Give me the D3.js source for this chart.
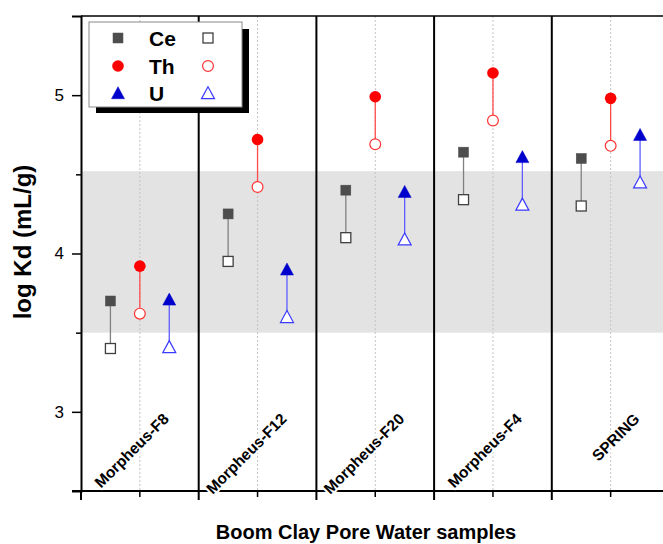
<!DOCTYPE html>
<html>
<head>
<meta charset="utf-8">
<script src="https://cdn.jsdelivr.net/npm/d3@7"></script>
<style>
  html, body { margin: 0; padding: 0; background: #fff; }
  svg { display: block; font-family: "Liberation Sans", Arial, sans-serif; }
</style>
</head>
<body>
<svg id="chart" width="663" height="544"></svg>
<script>
// ---- data ----
const categories = ["Morpheus-F8", "Morpheus-F12", "Morpheus-F20", "Morpheus-F4", "SPRING"];
const ceFilled = [3.70, 4.25, 4.40, 4.64, 4.60];
const ceOpen   = [3.40, 3.95, 4.10, 4.34, 4.30];
const thFilled = [3.92, 4.72, 4.99, 5.14, 4.98];
const thOpen   = [3.62, 4.42, 4.69, 4.84, 4.68];
const uFilled  = [3.71, 3.90, 4.39, 4.61, 4.75];
const uOpen    = [3.41, 3.60, 4.09, 4.31, 4.45];
const bandRange = [3.5, 4.52];
const yDomain = [2.5, 5.5];
const yMajorTicks = [3, 4, 5];
const yMinorTicks = [3.5, 4.5];
const elements = ["Ce", "Th", "U"];

(function () {
// ---- layout ----
const svg = d3.select("#chart");
const pL = 81, pR = 669.5, pT = 16, pB = 491;

const x = d3.scaleBand().domain(categories).range([pL, pR]).paddingInner(0).paddingOuter(0);
const y = d3.scaleLinear().domain(yDomain).range([pB, pT]);
const bw = x.bandwidth();
const cx = c => x(c) + bw / 2;
const offsets = { Ce: -bw / 4, Th: 0, U: bw / 4 };

// shaded band
svg.append("rect")
  .attr("x", pL).attr("width", pR - pL)
  .attr("y", y(bandRange[1])).attr("height", y(bandRange[0]) - y(bandRange[1]))
  .attr("fill", "#e3e3e3");

// dashed center lines
svg.append("g").selectAll("line").data(categories).join("line")
  .attr("x1", d => cx(d)).attr("x2", d => cx(d))
  .attr("y1", pT).attr("y2", pB)
  .attr("stroke", "#c4c4c4").attr("stroke-width", 1).attr("stroke-dasharray", "2,2");

// separator lines at category boundaries
svg.append("g").selectAll("line").data(categories.slice(1)).join("line")
  .attr("x1", d => x(d)).attr("x2", d => x(d))
  .attr("y1", pT).attr("y2", pB + 9)
  .attr("stroke", "#000").attr("stroke-width", 2);

// top frame line
svg.append("line").attr("x1", pL).attr("x2", 663).attr("y1", pT).attr("y2", pT)
  .attr("stroke", "#000").attr("stroke-width", 1.5);

// y axis
const yAxis = svg.append("g").attr("transform", `translate(${pL},0)`)
  .call(d3.axisLeft(y).tickValues(yMajorTicks).tickSize(9).tickPadding(8).tickFormat(d3.format("d")));
yAxis.select(".domain").attr("stroke-width", 2);
yAxis.selectAll(".tick line").attr("stroke-width", 1.5);
yAxis.selectAll(".tick text").attr("font-size", 17).attr("fill", "#000")
  .attr("font-family", "Liberation Sans, Arial, sans-serif");
const yMinor = svg.append("g").attr("transform", `translate(${pL},0)`)
  .call(d3.axisLeft(y).tickValues(yMinorTicks).tickSize(5).tickFormat(""));
yMinor.select(".domain").remove();
yMinor.selectAll(".tick line").attr("stroke-width", 1.5);

// x axis
const xAxis = svg.append("g").attr("transform", `translate(0,${pB})`)
  .call(d3.axisBottom(x).tickSize(6).tickFormat(""));
xAxis.select(".domain").attr("d", `M${pL - 9},0H${pR}`).attr("stroke-width", 2);
xAxis.selectAll(".tick line").attr("stroke-width", 1.5);
svg.append("line").attr("x1", pL).attr("x2", pL).attr("y1", pB).attr("y2", pB + 9)
  .attr("stroke", "#000").attr("stroke-width", 2);

// category labels inside plot
svg.append("g").selectAll("text").data(categories).join("text")
  .attr("transform", d => `translate(${cx(d) + 30},${420}) rotate(-45)`)
  .attr("text-anchor", "end")
  .attr("font-size", 15.5).attr("font-weight", "bold")
  .attr("fill", "#000")
  .attr("stroke", "#fff").attr("stroke-width", 4).attr("paint-order", "stroke")
  .attr("stroke-linejoin", "round")
  .text(d => d);

// series
const series = [
  { name: "Ce", filled: ceFilled, open: ceOpen, line: "#808080", fill: "#4d4d4d", stroke: "#404040", shape: "square" },
  { name: "Th", filled: thFilled, open: thOpen, line: "#ff4a4a", fill: "#ff0000", stroke: "#ff3030", shape: "circle" },
  { name: "U",  filled: uFilled,  open: uOpen,  line: "#5c5cff", fill: "#0000cc", stroke: "#3a3aff", shape: "triangle" }
];

function drawSymbol(g, shape, px, py, filled, s) {
  if (shape === "square") {
    g.append("rect").attr("x", px - 5).attr("y", py - 5).attr("width", 10).attr("height", 10)
      .attr("fill", filled ? s.fill : "#fff").attr("stroke", filled ? s.fill : s.stroke)
      .attr("stroke-width", filled ? 0.5 : 1.3);
  } else if (shape === "circle") {
    g.append("circle").attr("cx", px).attr("cy", py).attr("r", filled ? 5.8 : 5.4)
      .attr("fill", filled ? s.fill : "#fff").attr("stroke", filled ? "none" : s.stroke)
      .attr("stroke-width", 1.2);
  } else {
    g.append("path").attr("d", `M${px},${py - 6.3}L${px + 6.5},${py + 5.7}L${px - 6.5},${py + 5.7}Z`)
      .attr("fill", filled ? s.fill : "#fff").attr("stroke", filled ? s.fill : s.stroke)
      .attr("stroke-width", filled ? 0.5 : 1.2);
  }
}

const marks = svg.append("g");
series.forEach(s => {
  categories.forEach((c, i) => {
    const px = cx(c) + offsets[s.name];
    marks.append("line").attr("x1", px).attr("x2", px)
      .attr("y1", y(s.open[i])).attr("y2", y(s.filled[i]))
      .attr("stroke", s.line).attr("stroke-width", 1.3);
  });
});
series.forEach(s => {
  categories.forEach((c, i) => {
    const px = cx(c) + offsets[s.name];
    drawSymbol(marks, s.shape, px, y(s.open[i]), false, s);
    drawSymbol(marks, s.shape, px, y(s.filled[i]), true, s);
  });
});

// legend
const lg = svg.append("g");
lg.append("rect").attr("x", 96).attr("y", 29).attr("width", 153).attr("height", 84).attr("fill", "#000");
lg.append("rect").attr("x", 89).attr("y", 22).attr("width", 153).attr("height", 85)
  .attr("fill", "#fff").attr("stroke", "#8a8a8a").attr("stroke-width", 1);
const rowsY = [38, 66, 93];
series.forEach((s, k) => {
  drawSymbol(lg, s.shape, 118, rowsY[k], true, s);
  drawSymbol(lg, s.shape, 208, rowsY[k], false, s);
  lg.append("text").attr("x", 149).attr("y", rowsY[k] + 7.5)
    .attr("font-size", 21).attr("font-weight", "bold").attr("fill", "#000")
    .text(elements[k]);
});

// axis titles
svg.append("text").attr("transform", `translate(31,242) rotate(-90)`)
  .attr("text-anchor", "middle").attr("font-size", 24).attr("font-weight", "bold")
  .text("log Kd (mL/g)");
svg.append("text").attr("x", 366).attr("y", 539)
  .attr("text-anchor", "middle").attr("font-size", 20).attr("font-weight", "bold")
  .text("Boom Clay Pore Water samples");
})();
</script>
</body>
</html>
